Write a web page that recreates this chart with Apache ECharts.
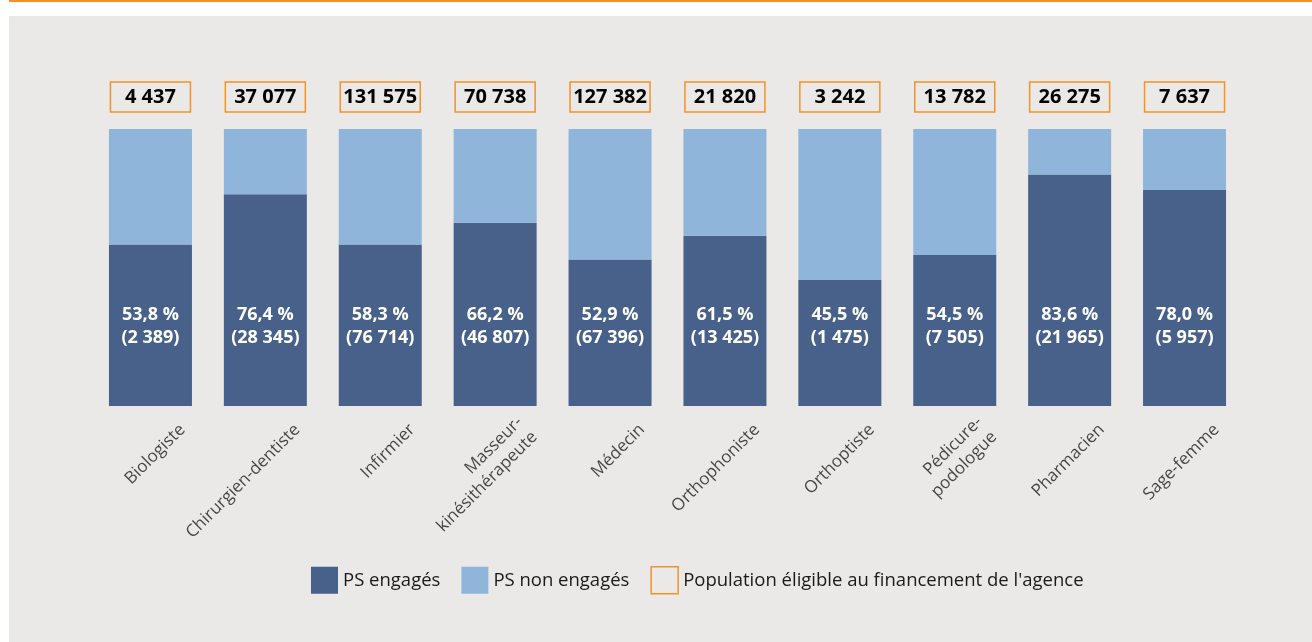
<!DOCTYPE html>
<html>
<head>
<meta charset="utf-8">
<script src="https://cdn.jsdelivr.net/npm/echarts@6/dist/echarts.min.js"></script>
<style>
    html, body {
        margin: 0;
        padding: 0;
        background: #ffffff;
    }
    .top-line {
        position: absolute;
        left: 9px;
        right: 0;
        top: 0;
        height: 2px;
        background: #F39325;
    }
    .panel {
        position: absolute;
        left: 9px;
        right: 0;
        top: 16px;
        bottom: 0;
        background: #EAE9E7;
    }
    #chart {
        position: absolute;
        left: 0;
        top: 0;
        width: 1312px;
        height: 642px;
    }
</style>
</head>
<body>
<div class="top-line"></div>
<div class="panel"></div>
<div id="chart"></div>
<script>
const categories = [
    'Biologiste', 'Chirurgien-dentiste', 'Infirmier', 'Masseur-\nkinésithérapeute', 'Médecin',
    'Orthophoniste', 'Orthoptiste', 'Pédicure-\npodologue', 'Pharmacien', 'Sage-femme'
]
// bar heights as drawn in the picture (share of eligible population, %)
const engagedBar = [58.3, 76.4, 58.3, 66.2, 52.9, 61.5, 45.5, 54.5, 83.6, 78.0]
const notEngagedBar = [41.7, 23.6, 41.7, 33.8, 47.1, 38.5, 54.5, 45.5, 16.4, 22.0]
// printed labels
const engagedPctLabel = [53.8, 76.4, 58.3, 66.2, 52.9, 61.5, 45.5, 54.5, 83.6, 78.0]
const engagedCount = [2389, 28345, 76714, 46807, 67396, 13425, 1475, 7505, 21965, 5957]
const eligibleCount = [4437, 37077, 131575, 70738, 127382, 21820, 3242, 13782, 26275, 7637]

const FONT = '"Open Sans", sans-serif'
const DARK = '#47618A'
const LIGHT = '#8FB5DA'
const ORANGE = '#F39325'

const fmt = (n) => String(n).replace(/\B(?=(\d{3})+(?!\d))/g, ' ')
const fmtPct = (p) => p.toFixed(1).replace('.', ',') + ' %'

const chartInstance = echarts.init(document.getElementById('chart'))

const options = {
    animation: false,
    textStyle: { fontFamily: FONT },
    grid: {
        left: 93,
        right: 70,
        top: 129,
        bottom: 236,
        containLabel: false
    },
    legend: {
        left: 311,
        top: 566,
        icon: 'rect',
        itemWidth: 27,
        itemHeight: 27,
        itemGap: 21,
        padding: 0,
        textStyle: { fontFamily: FONT, fontSize: 18.5, color: '#1a1a1a' },
        data: [
            { name: 'PS engagés' },
            { name: 'PS non engagés' },
            {
                name: "Population éligible au financement de l'agence",
                itemStyle: { color: 'rgba(0,0,0,0)', borderColor: ORANGE, borderWidth: 1.5 }
            }
        ]
    },
    xAxis: {
        type: 'category',
        data: categories,
        axisLine: { show: false },
        axisTick: { show: false },
        axisLabel: { show: false }
    },
    yAxis: {
        type: 'value',
        min: 0,
        max: 100,
        show: false
    },
    series: [
        {
            type: 'bar',
            name: 'PS engagés',
            stack: 'total',
            barWidth: 83,
            data: engagedBar,
            itemStyle: { color: DARK },
            label: {
                show: true,
                position: 'insideBottom',
                distance: 57,
                fontFamily: FONT,
                fontSize: 18,
                fontWeight: 'bold',
                lineHeight: 23,
                color: '#ffffff',
                formatter: (p) => fmtPct(engagedPctLabel[p.dataIndex]) + '\n(' + fmt(engagedCount[p.dataIndex]) + ')'
            }
        },
        {
            type: 'bar',
            name: 'PS non engagés',
            stack: 'total',
            barWidth: 83,
            data: notEngagedBar,
            itemStyle: { color: LIGHT },
            label: {
                show: true,
                position: 'top',
                distance: 17,
                fontFamily: FONT,
                fontSize: 20,
                fontWeight: 'bold',
                color: '#000000',
                width: 80,
                height: 30,
                lineHeight: 30,
                align: 'center',
                borderColor: ORANGE,
                borderWidth: 1.5,
                formatter: (p) => fmt(eligibleCount[p.dataIndex])
            }
        },
        {
            type: 'bar',
            name: "Population éligible au financement de l'agence",
            stack: 'total',
            barWidth: 83,
            data: [],
            itemStyle: { color: 'rgba(0,0,0,0)', borderColor: ORANGE, borderWidth: 1.5 }
        },
        {
            // category names, rotated under each bar
            type: 'scatter',
            name: 'labels',
            silent: true,
            symbolSize: 0,
            data: categories.map((c) => [c, 0]),
            label: {
                show: true,
                position: [32, 21],
                rotate: 45,
                align: 'right',
                verticalAlign: 'middle',
                fontFamily: FONT,
                fontSize: 17,
                lineHeight: 21,
                color: '#1a1a1a',
                formatter: (p) => p.name
            }
        }
    ]
}

chartInstance.setOption(options)
</script>
</body>
</html>
